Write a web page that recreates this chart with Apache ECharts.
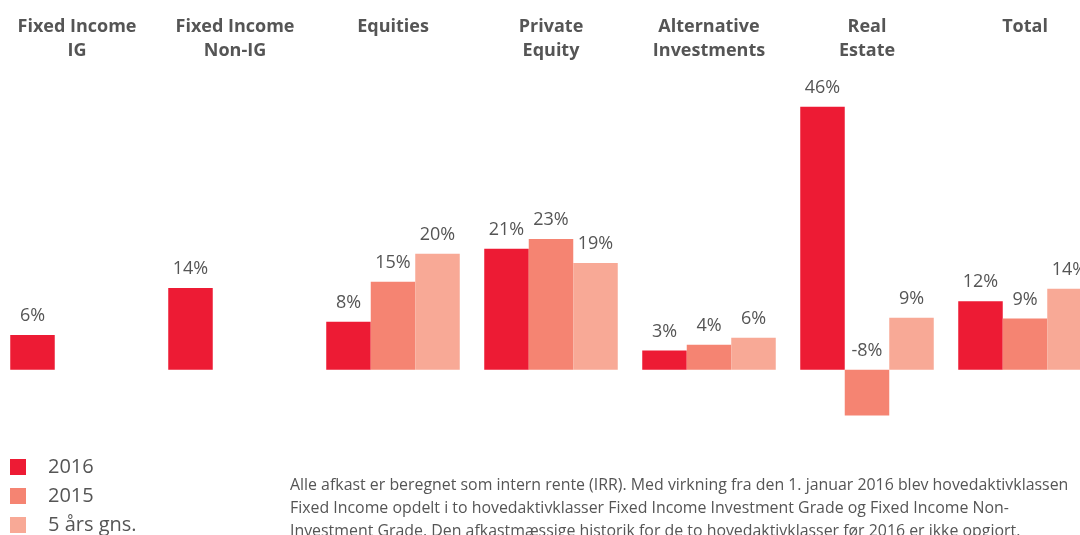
<!DOCTYPE html>
<html><head><meta charset="utf-8">
<script src="https://cdn.jsdelivr.net/npm/echarts@6/dist/echarts.min.js"></script>
<style>html,body{margin:0;padding:0;background:#fff;overflow:hidden;width:1080px;height:535px}#c{width:1106px;height:535px;margin-left:-2px}</style>
</head><body><div id="c"></div>
<script>
const categories = ['Fixed Income\nIG', 'Fixed Income\nNon-IG', 'Equities', 'Private\nEquity', 'Alternative\nInvestments', 'Real\nEstate', 'Total'];
const seriesNames = ['2016', '2015', '5 års gns.'];
const values2016 = [6.1, 14.3, 8.4, 21.2, 3.4, 46, 12];
const values2015 = [null, null, 15.4, 22.9, 4.4, -8, 9];
const valuesAvg5 = [null, null, 20.3, 18.7, 5.6, 9.1, 14.2];
const colors = ['#ED1B34', '#F58472', '#F8A996'];
const footnote = 'Alle afkast er beregnet som intern rente (IRR). Med virkning fra den 1. januar 2016 blev hovedaktivklassen\nFixed Income opdelt i to hovedaktivklasser Fixed Income Investment Grade og Fixed Income Non-\nInvestment Grade. Den afkastmæssige historik for de to hovedaktivklasser før 2016 er ikke opgjort.';

const font = '"Open Sans", sans-serif';
const chart = echarts.init(document.getElementById('c'));
const lbl = {
  show: true, position: 'top', distance: 10, color: '#555', fontSize: 18, fontFamily: font,
  formatter: p => Math.round(p.value) + '%'
};
const allVals = [values2016, values2015, valuesAvg5];
chart.setOption({
  animation: false,
  color: colors,
  grid: { left: 0, right: 0, top: 84, height: 343, containLabel: false },
  xAxis: {
    type: 'category', data: categories, position: 'top',
    axisLine: { show: false }, axisTick: { show: false },
    axisLabel: { margin: 69, verticalAlign: 'top', color: '#555', fontSize: 18, fontWeight: 'bold', fontFamily: font, lineHeight: 24, interval: 0 }
  },
  yAxis: { type: 'value', min: -10, max: 50, show: false, splitLine: { show: false } },
  legend: {
    orient: 'vertical', left: 12, top: 457, height: 90, padding: 0, icon: 'rect', itemWidth: 16, itemHeight: 16, itemGap: 9,
    textStyle: { color: '#555', fontSize: 20, fontFamily: font, padding: [0, 0, 0, 17] },
    data: seriesNames
  },
  series: seriesNames.map((n, i) => ({
    name: n, type: 'bar', data: allVals[i], barGap: '0%', barCategoryGap: '15.5%', label: lbl
  })),
  graphic: [{
    type: 'text', left: 292, top: 474,
    style: { text: footnote, fill: '#555', fontSize: 15.9, fontFamily: font, lineHeight: 23 }
  }]
});
</script></body></html>
